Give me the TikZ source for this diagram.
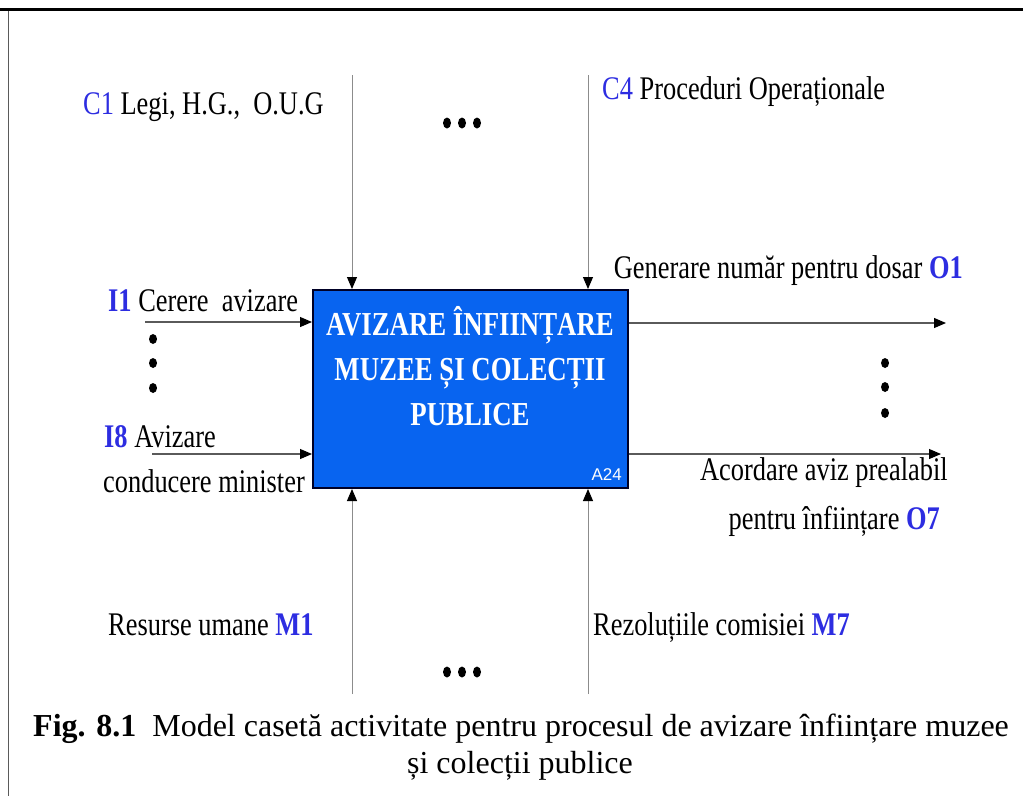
\documentclass[tikz,border=0pt]{standalone}
\usepackage{fontspec}
\setmainfont[FakeStretch=0.80]{Liberation Serif}
\newfontfamily\capfont{Liberation Serif}
\newfontfamily\sansf{Liberation Sans}
\usetikzlibrary{arrows.meta}
\definecolor{boxblue}{RGB}{8,100,240}
\definecolor{lblue}{RGB}{45,45,225}
\definecolor{lgray}{RGB}{140,140,140}
\definecolor{dgray}{RGB}{90,90,90}
\newcommand\cdb[1]{\textcolor{lblue}{\textbf{#1}}}
\newcommand\cdr[1]{\textcolor{lblue}{#1}}
\begin{document}
\begin{tikzpicture}[x=1pt,y=-1pt,
  lbl/.style={inner sep=0pt, font=\fontsize{33}{38}\selectfont},
  caplbl/.style={inner sep=0pt, font=\capfont\fontsize{32}{38}\selectfont},
  arr/.style={draw=dgray, line width=1.1pt, -{Triangle[length=12pt,width=10pt,fill=black,color=black]}},
  varr/.style={draw=lgray, line width=0.9pt, -{Triangle[length=12pt,width=10pt,fill=black,color=black]}},
  dot/.style={fill=black}]
\useasboundingbox (0,0) rectangle (1023,796);
% page frame fragments
\draw[line width=3pt] (0,9.5) -- (1023,9.5);
\draw[line width=1.5pt, dgray] (8.5,11) -- (8.5,796);
% activity box
\node[draw=black!85!blue, line width=2pt, fill=boxblue, minimum width=315pt, minimum height=198pt, inner sep=0pt] (box) at (470.5,389) {};
\node[text=white, align=center, inner sep=0pt, font=\fontsize{33.5}{45}\selectfont\bfseries] (title) at (470,366) {AVIZARE ÎNFIINȚARE\\MUZEE ȘI COLECȚII\\PUBLICE};
\node[text=white, inner sep=0pt, font=\sansf\fontsize{17}{20}\selectfont, anchor=base east] (a24) at (622,480) {A24};
% controls
\coordinate (c1) at (352,75);
\coordinate (c4) at (588,75);
\draw[varr] (c1) -- (c1 |- box.north);
\draw[varr] (c4) -- (c4 |- box.north);
% mechanisms
\coordinate (m1) at (352,694);
\coordinate (m7) at (588,694);
\draw[varr] (m1) -- (m1 |- box.south);
\draw[varr] (m7) -- (m7 |- box.south);
% inputs
\coordinate (i1) at (145,322);
\coordinate (i8) at (152,454);
\draw[arr] (i1) -- (i1 -| box.west);
\draw[arr] (i8) -- (i8 -| box.west);
% outputs
\coordinate (o1) at (946,323);
\coordinate (o7) at (941,454);
\draw[arr] (o1 -| box.east) -- (o1);
\draw[arr] (o7 -| box.east) -- (o7);
% labels
\node[lbl, anchor=base west] (lc1) at (83,114) {\cdr{C1} Legi, H.G.,\ \ O.U.G};
\node[lbl, anchor=base west] (lc4) at (602,99) {\cdr{C4} Proceduri Operaționale};
\node[lbl, anchor=base east] (lo1) at (963,278) {Generare număr pentru dosar \cdb{O1}};
\node[lbl, anchor=base west] (li1) at (108,311) {\cdb{I1} Cerere\ \ avizare};
\node[lbl, anchor=base west] (li8) at (104,447) {\cdb{I8} Avizare};
\node[lbl, anchor=base west] (li8b) at (103,492) {conducere minister};
\node[lbl, anchor=base east] (lo7) at (948,480) {Acordare aviz prealabil};
\node[lbl, anchor=base east] (lo7b) at (940,529) {pentru înființare \cdb{O7}};
\node[lbl, anchor=base west] (lm1) at (108,635) {Resurse umane \cdb{M1}};
\node[lbl, anchor=base west] (lm7) at (593,635) {Rezoluțiile comisiei \cdb{M7}};
% caption
\node[caplbl, anchor=base] (cap1) at (521,736) {\textbf{Fig. 8.1}\ \ Model casetă activitate pentru procesul de avizare înființare muzee};
\node[caplbl, anchor=base] (cap2) at (520,773) {și colecții publice};
% dots
\foreach \x in {447,462,477} {
  \fill[dot] (\x,123) ellipse [x radius=4pt, y radius=5.5pt];
  \fill[dot] (\x,672) ellipse [x radius=4pt, y radius=5.5pt];
}
\foreach \y in {339,363,388} \fill[dot] (153,\y) ellipse [x radius=4pt, y radius=5pt];
\foreach \y in {363,387,413} \fill[dot] (885,\y) ellipse [x radius=4pt, y radius=5pt];
\end{tikzpicture}
\end{document}
